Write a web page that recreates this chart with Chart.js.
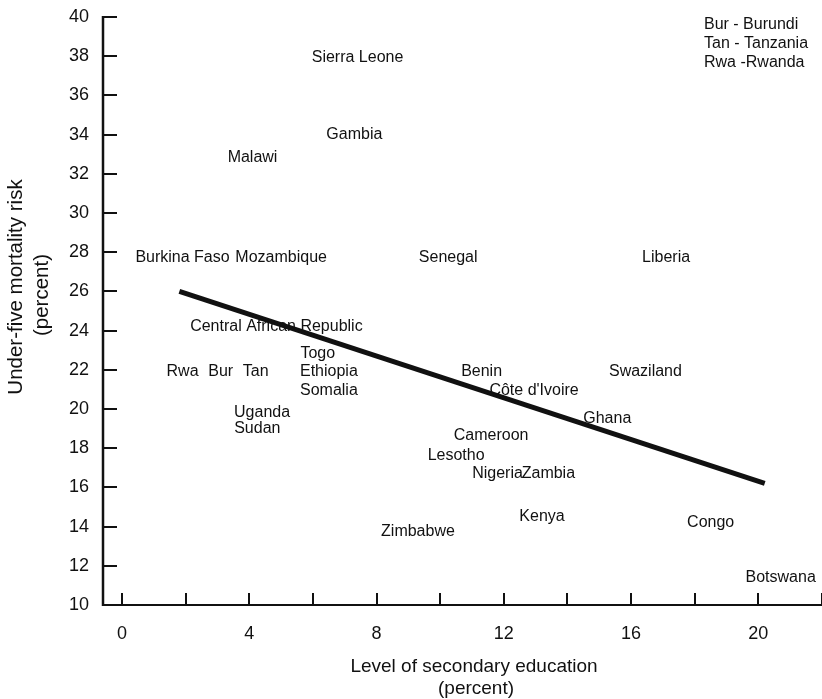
<!DOCTYPE html>
<html>
<head>
<meta charset="utf-8">
<script src="https://cdn.jsdelivr.net/npm/chart.js@4/dist/chart.umd.min.js"></script>
<style>
  html, body { margin: 0; padding: 0; background: #fff; }
  #wrap { width: 822px; height: 699px; position: relative; }
  canvas { display: block; }
</style>
</head>
<body>
<div id="wrap"><canvas id="c" width="822" height="699"></canvas></div>
<script>
// Country labels with secondary education level (x) and under-five mortality (y)
const countries = ['Sierra Leone', 'Gambia', 'Malawi', 'Burkina Faso', 'Mozambique', 'Senegal', 'Liberia',
  'Central African Republic', 'Togo', 'Ethiopia', 'Somalia', 'Rwa', 'Bur', 'Tan', 'Uganda', 'Sudan',
  'Zimbabwe', 'Benin', "Côte d'Ivoire", 'Ghana', 'Swaziland', 'Cameroon', 'Lesotho', 'Nigeria', 'Zambia',
  'Kenya', 'Congo', 'Botswana'];
const education = [7.4, 7.3, 4.1, 1.9, 5.0, 10.25, 17.1,
  4.85, 6.15, 6.5, 6.5, 1.9, 3.1, 4.2, 4.4, 4.25,
  9.3, 11.3, 12.95, 15.25, 16.45, 11.6, 10.5, 11.8, 13.4,
  13.2, 18.5, 20.7];
const mortality = [38.0, 34.1, 32.9, 27.8, 27.8, 27.8, 27.8,
  24.3, 22.9, 22.0, 21.0, 22.0, 22.0, 22.0, 19.9, 19.1,
  13.8, 22.0, 21.0, 19.6, 22.0, 18.7, 17.7, 16.8, 16.8,
  14.6, 14.3, 11.5];

// Fitted trend line endpoints
const trendX = [1.8, 20.2];
const trendY = [26.0, 16.2];

// Axis ticks
const xTicks = [0, 2, 4, 6, 8, 10, 12, 14, 16, 18, 20, 22];
const xTickLabels = ['0', '', '4', '', '8', '', '12', '', '16', '', '20', ''];
const yTicks = [10, 12, 14, 16, 18, 20, 22, 24, 26, 28, 30, 32, 34, 36, 38, 40];

// Abbreviation key
const keyLines = ['Bur - Burundi', 'Tan - Tanzania', 'Rwa -Rwanda'];

const FONT = "'Liberation Sans', Arial, Helvetica, sans-serif";
const INK = '#111';

const decorations = {
  id: 'decorations',
  afterDatasetsDraw(chart) {
    const ctx = chart.ctx;
    const xs = chart.scales.x, ys = chart.scales.y;
    const left = chart.chartArea.left, bottom = chart.chartArea.bottom;
    const top = ys.getPixelForValue(40);
    ctx.save();
    ctx.strokeStyle = INK;
    ctx.lineCap = 'butt';
    // axis lines
    ctx.lineWidth = 2.5;
    ctx.beginPath();
    ctx.moveTo(left, top - 1);
    ctx.lineTo(left, bottom + 1);
    ctx.stroke();
    ctx.lineWidth = 2;
    ctx.beginPath();
    ctx.moveTo(left, bottom);
    ctx.lineTo(chart.chartArea.right, bottom);
    ctx.stroke();
    // inward tick marks
    ctx.lineWidth = 2;
    yTicks.forEach(v => {
      const py = Math.round(ys.getPixelForValue(v));
      ctx.beginPath();
      ctx.moveTo(left, py);
      ctx.lineTo(left + 14, py);
      ctx.stroke();
    });
    xTicks.forEach(v => {
      const px = Math.round(xs.getPixelForValue(v));
      ctx.beginPath();
      ctx.moveTo(px, bottom);
      ctx.lineTo(px, bottom - 12);
      ctx.stroke();
    });

    // country labels centred on their data points (glyph centre sits a touch above 'middle')
    ctx.fillStyle = INK;
    ctx.font = '16px ' + FONT;
    ctx.textAlign = 'center';
    ctx.textBaseline = 'middle';
    const meta = chart.getDatasetMeta(0);
    meta.data.forEach((pt, i) => {
      ctx.fillText(countries[i], pt.x, pt.y + 1.5);
    });

    // abbreviation key
    ctx.textAlign = 'left';
    keyLines.forEach((t, i) => {
      ctx.fillText(t, 704, 24.5 + i * 19);
    });

    // axis titles
    ctx.font = '19px ' + FONT;
    ctx.textAlign = 'center';
    ctx.fillText('Level of secondary education', 474, 667);
    ctx.fillText('(percent)', 476, 689);
    ctx.font = '20.5px ' + FONT;
    ctx.save();
    ctx.translate(16, 287);
    ctx.rotate(-Math.PI / 2);
    ctx.fillText('Under-five mortality risk', 0, 0);
    ctx.restore();
    ctx.save();
    ctx.translate(42, 295);
    ctx.rotate(-Math.PI / 2);
    ctx.fillText('(percent)', 0, 0);
    ctx.restore();
    ctx.restore();
  }
};

new Chart(document.getElementById('c'), {
  type: 'scatter',
  data: {
    datasets: [
      {
        data: education.map((x, i) => ({ x: x, y: mortality[i] })),
        pointRadius: 0,
        pointHoverRadius: 0,
        showLine: false
      },
      {
        type: 'line',
        data: trendX.map((x, i) => ({ x: x, y: trendY[i] })),
        borderColor: INK,
        borderWidth: 5,
        borderCapStyle: 'butt',
        pointRadius: 0,
        fill: false
      }
    ]
  },
  options: {
    responsive: false,
    animation: false,
    devicePixelRatio: 1,
    layout: { padding: { top: 17, right: 0, left: 0, bottom: 0 } },
    plugins: { legend: { display: false }, tooltip: { enabled: false }, title: { display: false } },
    scales: {
      x: {
        type: 'linear',
        min: -0.6,
        max: 22,
        afterBuildTicks: s => { s.ticks = xTicks.map(v => ({ value: v })); },
        afterFit: s => { s.height = 94; s.paddingLeft = 0; s.paddingRight = 0; },
        grid: { display: false, drawTicks: false },
        border: { display: false },
        ticks: {
          autoSkip: false,
          maxRotation: 0,
          padding: 18,
          color: INK,
          font: { size: 18, family: FONT },
          callback: (v, i) => xTickLabels[i]
        }
      },
      y: {
        type: 'linear',
        min: 10,
        max: 40,
        afterBuildTicks: s => { s.ticks = yTicks.map(v => ({ value: v })); },
        afterFit: s => { s.width = 103; s.paddingTop = 0; s.paddingBottom = 0; },
        grid: { display: false, drawTicks: false },
        border: { display: false },
        ticks: {
          autoSkip: false,
          padding: 14,
          color: INK,
          font: { size: 18, family: FONT }
        }
      }
    }
  },
  plugins: [decorations]
});
</script>
</body>
</html>
